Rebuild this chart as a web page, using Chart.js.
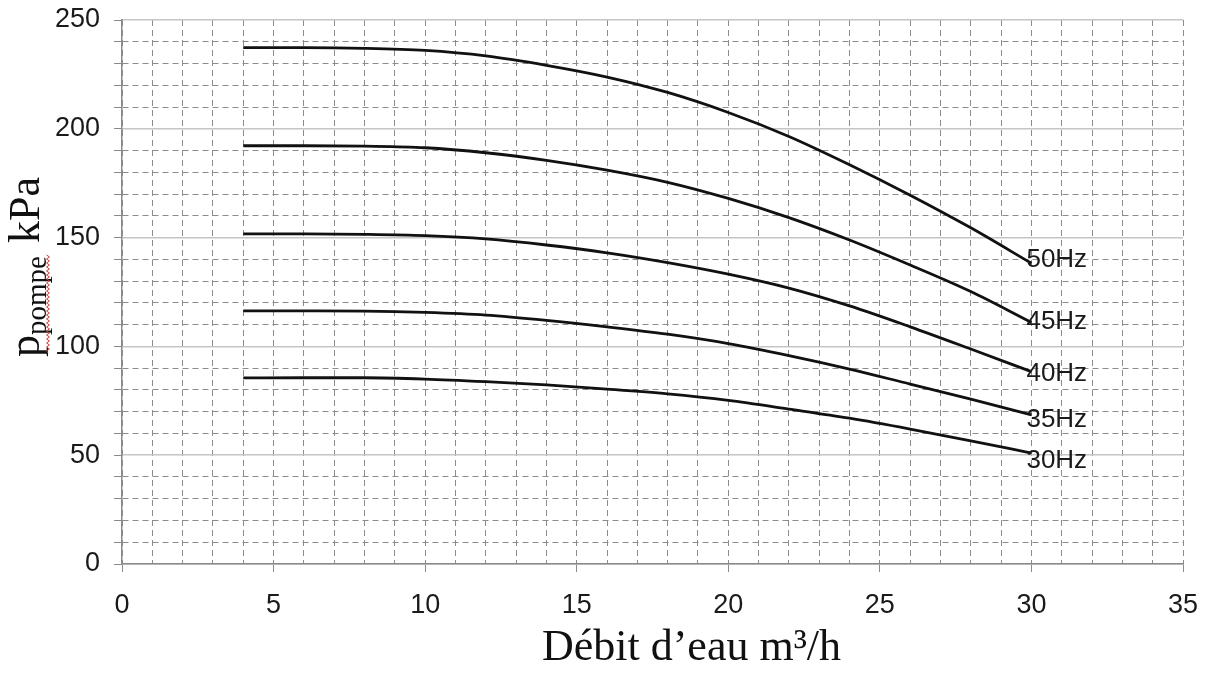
<!DOCTYPE html>
<html>
<head>
<meta charset="utf-8">
<title>Courbes pompe</title>
<script src="https://cdn.jsdelivr.net/npm/chart.js@4.4.0/dist/chart.umd.min.js"></script>
<style>
  html, body { margin: 0; padding: 0; background: #fff; }
  canvas { display: block; }
</style>
</head>
<body>
<canvas id="kennlinie" width="1208" height="677"></canvas>
<script>
// werte (debit in m3/h, druck in kPa)
const debit = [4, 6, 8, 10, 12, 14, 16, 18, 20, 22, 24, 26, 28, 30];
const p50 = [237.3, 237.3, 237, 236, 233.5, 229.2, 223.8, 216.7, 207.5, 196.5, 183.5, 169.5, 154.5, 138.2];
const p45 = [192.2, 192.2, 192, 191.3, 189, 185.5, 181, 175.4, 168, 159.2, 148.9, 137.4, 125.2, 111];
const p40 = [151.7, 151.7, 151.5, 150.9, 149.4, 146.6, 143, 138.5, 133.2, 126.8, 118.6, 109, 98.8, 88.4];
const p35 = [116.3, 116.3, 116.2, 115.6, 114.4, 112, 109, 105.6, 101.3, 95.8, 89.6, 82.7, 75.8, 68.5];
const p30 = [85.5, 85.6, 85.6, 85, 83.8, 82.3, 80.4, 78.2, 75.2, 71.2, 67, 62, 56.6, 51];
const frequenzen = ['50Hz', '45Hz', '40Hz', '35Hz', '30Hz'];
const xBeschriftung = [0, 5, 10, 15, 20, 25, 30, 35];
const yBeschriftung = [0, 50, 100, 150, 200, 250];

// kleine verschiebung der frequenz-texte (pixel, nach unten)
const labelVersatz = [-3, -1, 2, 5, 8];

const gitterGestrichelt = '#8c8c8c';
const gitterHell = '#c6c6c6';
const achsenFarbe = '#8a8a8a';
const schriftArial = '"Liberation Sans", Arial, sans-serif';
const schriftTimes = '"Liberation Serif", "Times New Roman", serif';

// x/y paare für eine kurve bauen
function datenpunkte(werte) {
    return debit.map(function(x, i) {
        return { x: x, y: werte[i] };
    });
}

// frequenz neben das ende jeder kurve schreiben
const kurvenLabel = {
    id: 'kurvenLabel',
    afterDatasetsDraw(chart) {
        const ctx = chart.ctx;
        ctx.save();
        ctx.font = '26px ' + schriftArial;
        ctx.fillStyle = '#1a1a1a';
        ctx.textAlign = 'left';
        ctx.textBaseline = 'middle';
        chart.data.datasets.forEach(function(ds, i) {
            const meta = chart.getDatasetMeta(i);
            const letzter = meta.data[meta.data.length - 1];
            ctx.fillText(ds.label, letzter.x - 5, letzter.y + labelVersatz[i]);
        });
        ctx.restore();
    }
};

// achsentitel von hand, damit index und position stimmen
const achsenTitel = {
    id: 'achsenTitel',
    afterDraw(chart) {
        const ctx = chart.ctx;
        const area = chart.chartArea;
        ctx.save();
        ctx.fillStyle = '#111';

        // x titel
        ctx.font = '44px ' + schriftTimes;
        ctx.textAlign = 'center';
        ctx.textBaseline = 'alphabetic';
        ctx.fillText('Débit d’eau m³/h', (area.left + area.right) / 2 + 39, chart.height - 17);

        // y titel, gedreht
        const mitte = (area.top + area.bottom) / 2 - 25;
        ctx.translate(39, mitte);
        ctx.rotate(-Math.PI / 2);
        ctx.textAlign = 'left';
        ctx.font = '44px ' + schriftTimes;
        const bP = ctx.measureText('p').width;
        const bK = ctx.measureText('kPa').width;
        ctx.font = '29px ' + schriftTimes;
        const bPompe = ctx.measureText('pompe').width;
        const luecke = 13;
        const gesamt = bP + bPompe + luecke + bK;
        let pos = -gesamt / 2;
        ctx.font = '44px ' + schriftTimes;
        ctx.fillText('p', pos, 0);
        pos += bP;
        ctx.font = '29px ' + schriftTimes;
        ctx.fillText('pompe', pos, 7);
        const pompeEnde = pos + bPompe;
        pos = pompeEnde + luecke;
        ctx.font = '44px ' + schriftTimes;
        ctx.fillText('kPa', pos, 0);

        // rote rechtschreib-wellenlinie unter "ppompe"
        ctx.strokeStyle = '#d83a3a';
        ctx.lineWidth = 1;
        ctx.beginPath();
        let w = -gesamt / 2 + 4;
        let oben = true;
        ctx.moveTo(w, 9);
        while (w < pompeEnde) {
            w += 2;
            ctx.lineTo(w, oben ? 7.5 : 10.5);
            oben = !oben;
        }
        ctx.stroke();
        ctx.restore();
    }
};

const ctx = document.getElementById('kennlinie');
const datensaetze = [p50, p45, p40, p35, p30].map(function(werte, i) {
    return {
        label: frequenzen[i],
        data: datenpunkte(werte),
        borderColor: '#111111',
        borderWidth: 2.8,
        pointRadius: 0,
        fill: false,
        cubicInterpolationMode: 'monotone',
        xAxisID: 'x',
        yAxisID: 'y'
    };
});

const meinChart = new Chart(ctx, {
    type: 'line',
    data: { datasets: datensaetze },
    options: {
        responsive: false,
        animation: false,
        layout: { padding: { left: 0, right: 25, top: 20, bottom: 0 } },
        plugins: {
            legend: { display: false },
            tooltip: { enabled: false }
        },
        scales: {
            x: {
                type: 'linear',
                min: 0,
                max: 35,
                afterFit: function(scale) {
                    scale.height = 113;
                    scale.paddingLeft = 0;
                    scale.paddingRight = 0;
                },
                ticks: {
                    stepSize: 1,
                    autoSkip: false,
                    maxRotation: 0,
                    padding: 17,
                    color: '#1a1a1a',
                    font: { family: schriftArial, size: 27 },
                    callback: function(v) { return xBeschriftung.includes(v) ? String(v) : ''; }
                },
                grid: {
                    color: gitterGestrichelt,
                    lineWidth: 1,
                    tickLength: 8,
                    tickColor: function(c) {
                        return c.tick && c.tick.value % 5 === 0 ? achsenFarbe : 'transparent';
                    }
                },
                border: { display: true, color: achsenFarbe, width: 1.5, dash: [6, 4] }
            },
            y: {
                type: 'linear',
                min: 0,
                max: 250,
                afterFit: function(scale) {
                    scale.width = 122;
                    scale.paddingTop = 0;
                    scale.paddingBottom = 0;
                },
                ticks: {
                    stepSize: 10,
                    autoSkip: false,
                    padding: 14,
                    color: '#1a1a1a',
                    font: { family: schriftArial, size: 27 },
                    callback: function(v) { return yBeschriftung.includes(v) ? String(v) : ''; }
                },
                grid: {
                    color: function(c) {
                        return c.tick && c.tick.value % 50 === 0 ? 'transparent' : gitterGestrichelt;
                    },
                    lineWidth: 1,
                    tickLength: 8,
                    tickColor: achsenFarbe
                },
                border: { display: true, color: achsenFarbe, width: 1.5, dash: [6, 4] }
            },
            // zweite y achse nur für die durchgezogenen linien alle 50 kPa
            y2: {
                type: 'linear',
                position: 'right',
                min: 0,
                max: 250,
                afterFit: function(scale) {
                    scale.width = 0;
                    scale.paddingTop = 0;
                    scale.paddingBottom = 0;
                },
                ticks: { display: false, stepSize: 50 },
                grid: { color: gitterHell, lineWidth: 1.5, drawTicks: false, tickLength: 0 },
                border: { display: false }
            }
        }
    },
    plugins: [kurvenLabel, achsenTitel]
});
</script>
</body>
</html>
